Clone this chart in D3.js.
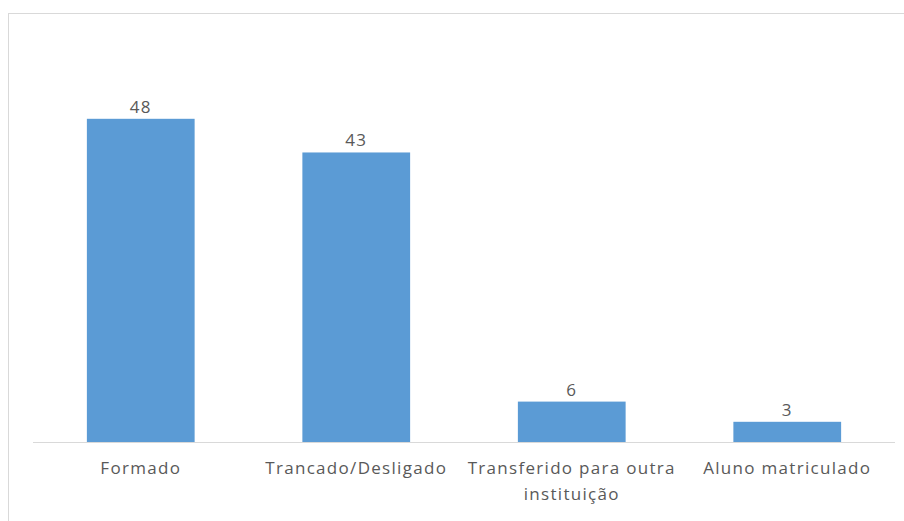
<!DOCTYPE html>
<html>
<head>
<meta charset="utf-8">
<script src="https://cdn.jsdelivr.net/npm/d3@7"></script>
<style>
  html, body { margin: 0; padding: 0; background: #fff; }
  svg { display: block; }
</style>
</head>
<body>
<svg id="chart" width="904" height="521"></svg>
<script>
const categories = ["Formado", "Trancado/Desligado", "Transferido para outra instituição", "Aluno matriculado"];
const values = [48, 43, 6, 3];

const svg = d3.select("#chart");
const W = 904, H = 521;
const font = "'Open Sans', 'Noto Sans', sans-serif";

// outer chart border
svg.append("rect")
  .attr("x", 8.5).attr("y", 13.5)
  .attr("width", W).attr("height", H)
  .attr("fill", "#fff")
  .attr("stroke", "#d9d9d9").attr("stroke-width", 1);

const x = d3.scaleBand()
  .domain(categories)
  .range([33, 895])
  .paddingInner(0.5)
  .paddingOuter(0.25);

const y = d3.scaleLinear()
  .domain([0, 60])
  .range([442, 38]);

// bars
svg.selectAll("rect.bar")
  .data(categories)
  .join("rect")
  .attr("class", "bar")
  .attr("x", d => x(d))
  .attr("width", x.bandwidth())
  .attr("y", (d, i) => y(values[i]))
  .attr("height", (d, i) => y(0) - y(values[i]))
  .attr("fill", "#5b9bd5");

// value labels
svg.selectAll("text.val")
  .data(categories)
  .join("text")
  .attr("class", "val")
  .attr("x", d => x(d) + x.bandwidth() / 2)
  .attr("y", (d, i) => y(values[i]) - 6)
  .attr("text-anchor", "middle")
  .attr("font-family", font)
  .attr("font-size", 17)
  .attr("letter-spacing", 1.2)
  .attr("fill", "#595959")
  .text((d, i) => values[i]);

// x axis
const xAxis = d3.axisBottom(x).tickSize(0).tickPadding(0);
const gx = svg.append("g")
  .attr("transform", `translate(0,${y(0)})`)
  .call(xAxis);
gx.select(".domain").attr("stroke", "#d9d9d9").attr("stroke-width", 1.2)
  .attr("d", `M33,0.5H895`);
gx.selectAll(".tick text")
  .attr("font-family", font)
  .attr("font-size", 17)
  .attr("letter-spacing", 1.3)
  .attr("fill", "#595959")
  .attr("dy", null)
  .attr("y", 32)
  .call(wrap, x.step() - 2);

function wrap(sel, width) {
  sel.each(function() {
    const text = d3.select(this);
    const words = text.text().split(/\s+/);
    const yy = +text.attr("y");
    text.text(null);
    let line = [];
    let lineNo = 0;
    let tspan = text.append("tspan").attr("x", 0).attr("y", yy);
    for (const w of words) {
      line.push(w);
      tspan.text(line.join(" "));
      if (tspan.node().getComputedTextLength() > width && line.length > 1) {
        line.pop();
        tspan.text(line.join(" "));
        line = [w];
        lineNo++;
        tspan = text.append("tspan").attr("x", 0).attr("y", yy + lineNo * 26).text(w);
      }
    }
  });
}
</script>
</body>
</html>
